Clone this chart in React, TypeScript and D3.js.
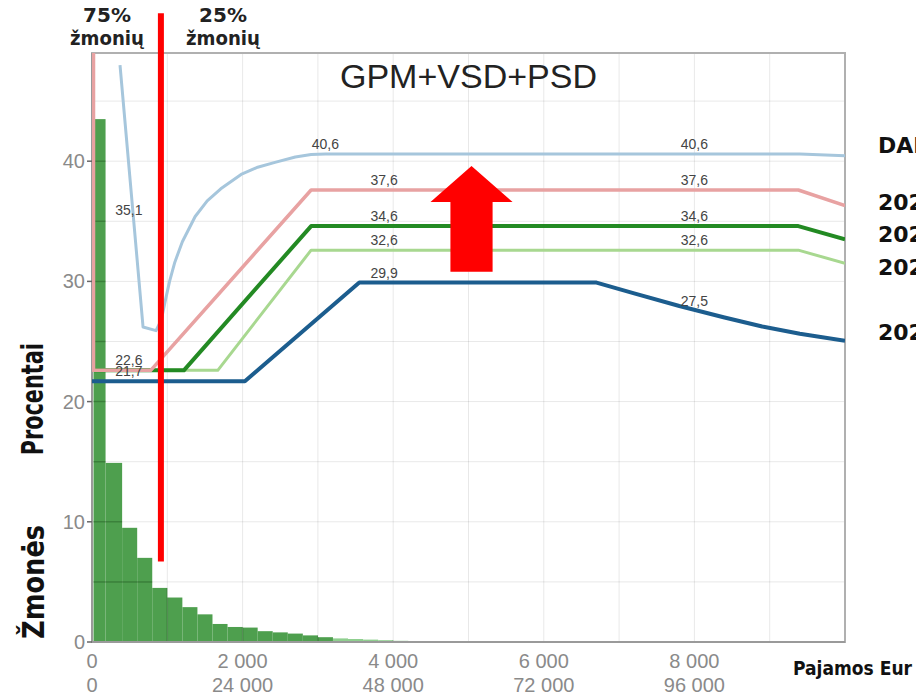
import React from "react";
import * as d3 from "d3";

const W = 916;
const H = 697;
const margin = { top: 53, right: 71, bottom: 55, left: 92 };

// share of people (%) per monthly income bin (Eur)
const binEdges = [20, 180, 400, 600, 800, 1000, 1200, 1400, 1600, 1800, 2000, 2200, 2400, 2600, 2800, 3000, 3200, 3400, 3600, 3800, 4000, 4200, 4400];
const people = [43.5, 14.9, 9.5, 7.0, 4.5, 3.7, 2.9, 2.3, 1.5, 1.25, 1.2, 0.9, 0.8, 0.7, 0.55, 0.4, 0.3, 0.25, 0.2, 0.15, 0.1, 0.05];

// effective rate (%) by monthly income (Eur)
const dabar: [number, number][] = [
  [372, 48.0], [678, 26.2], [850, 25.9], [920, 26.8], [970, 28.3], [1030, 30.0], [1100, 31.6],
  [1200, 33.3], [1370, 35.4], [1530, 36.7], [1710, 37.7], [1980, 38.9], [2200, 39.5], [2430, 39.9],
  [2700, 40.35], [2910, 40.55], [3100, 40.6], [9400, 40.6], [10000, 40.45],
];
const rateA: [number, number][] = [[20, 50], [20, 22.6], [780, 22.6], [2910, 37.6], [9380, 37.6], [10000, 36.3]];
const rateB: [number, number][] = [[25, 22.6], [1220, 22.6], [2910, 34.6], [9380, 34.6], [10000, 33.5]];
const rateC: [number, number][] = [[25, 22.6], [1670, 22.6], [2910, 32.6], [9380, 32.6], [10000, 31.5]];
const rateD: [number, number][] = [
  [0, 21.7], [2030, 21.7], [3550, 29.9], [6700, 29.9], [7200, 29.0], [7800, 27.95], [8400, 27.0],
  [8900, 26.25], [9400, 25.65], [10000, 25.05],
];

const series = [
  { name: "DABAR", data: dabar, color: "#a6c6dc", width: 3 },
  { name: "2025", data: rateC, color: "#a8d890", width: 3 },
  { name: "2026", data: rateB, color: "#238a23", width: 4 },
  { name: "2027", data: rateA, color: "#e8a2a2", width: 3.5 },
  { name: "2024", data: rateD, color: "#1c5d8e", width: 4 },
];

const valueLabels = [
  { x: 490, v: 35.1, text: "35,1" },
  { x: 490, v: 22.6, text: "22,6" },
  { x: 490, v: 21.7, text: "21,7" },
  { x: 3100, v: 40.6, text: "40,6" },
  { x: 8000, v: 40.6, text: "40,6" },
  { x: 3880, v: 37.6, text: "37,6" },
  { x: 8000, v: 37.6, text: "37,6" },
  { x: 3880, v: 34.6, text: "34,6" },
  { x: 8000, v: 34.6, text: "34,6" },
  { x: 3880, v: 32.6, text: "32,6" },
  { x: 8000, v: 32.6, text: "32,6" },
  { x: 3880, v: 29.9, text: "29,9" },
  { x: 8000, v: 27.5, text: "27,5" },
];

const xTicks = [0, 2000, 4000, 6000, 8000];
const xMonthLabels = ["0", "2 000", "4 000", "6 000", "8 000"];
const xYearLabels = ["0", "24 000", "48 000", "72 000", "96 000"];
const yTicks = [0, 10, 20, 30, 40];

const legend = [
  { text: "DABAR", y: 153 },
  { text: "2027", y: 210 },
  { text: "2026", y: 242 },
  { text: "2025", y: 275 },
  { text: "2024", y: 340 },
];

// annotations (Eur / %)
const splitIncome = 915;
const splitTop = 52.3;
const splitBottom = 6.7;
const arrow = { x: 5040, tip: 39.6, head: 36.6, base: 30.8, headHalf: 545, shaftHalf: 280 };

const boldFont = "'DejaVu Sans', sans-serif";
const plainFont = "'Liberation Sans', Arial, sans-serif";

export default function App() {
  const x = d3.scaleLinear().domain([0, 10000]).range([margin.left, W - margin.right]);
  const y = d3.scaleLinear().domain([0, 49]).range([H - margin.bottom, margin.top]);
  const line = d3.line<[number, number]>().x((d) => x(d[0])).y((d) => y(d[1]));

  const gridX = d3.range(0, 10001, 1000);
  const gridY = d3.range(0, 46, 5);

  const bars = people.map((v, i) => ({ x0: binEdges[i], x1: binEdges[i + 1], v }));

  const arrowPts: [number, number][] = [
    [arrow.x, arrow.tip],
    [arrow.x + arrow.headHalf, arrow.head],
    [arrow.x + arrow.shaftHalf, arrow.head],
    [arrow.x + arrow.shaftHalf, arrow.base],
    [arrow.x - arrow.shaftHalf, arrow.base],
    [arrow.x - arrow.shaftHalf, arrow.head],
    [arrow.x - arrow.headHalf, arrow.head],
  ];

  const grid = (key: string) => (
    <>
      {gridX.map((g) => (
        <line key={key + "x" + g} x1={x(g)} x2={x(g)} y1={y(49)} y2={y(0)} />
      ))}
      {gridY.map((g) => (
        <line key={key + "y" + g} x1={x(0)} x2={x(10000)} y1={y(g)} y2={y(g)} />
      ))}
    </>
  );

  return (
    <div style={{ position: "absolute", left: 0, top: 0 }}>
      <svg width={W} height={H} style={{ display: "block", background: "#fff" }}>
        <defs>
          <clipPath id="plot">
            <rect x={x(0)} y={y(49)} width={x(10000) - x(0)} height={y(0) - y(49)} />
          </clipPath>
          <clipPath id="bars">
            {bars.map((b) => (
              <rect key={b.x0} x={x(b.x0)} y={y(b.v)} width={x(b.x1) - x(b.x0)} height={y(0) - y(b.v)} />
            ))}
          </clipPath>
        </defs>

        {/* histogram */}
        <g clipPath="url(#plot)">
          {bars.map((b) => (
            <rect
              key={b.x0}
              x={x(b.x0)}
              y={y(b.v)}
              width={x(b.x1) - x(b.x0)}
              height={y(0) - y(b.v)}
              fill={b.v < 0.35 ? "#8fcf8f" : "#4e9f4e"}
            />
          ))}
        </g>

        {/* grid */}
        <g stroke="#000" strokeOpacity={0.09} strokeWidth={1}>
          {grid("a")}
        </g>
        <g stroke="#0b3b0b" strokeOpacity={0.22} strokeWidth={1.5} clipPath="url(#bars)">
          {grid("b")}
        </g>

        {/* frame */}
        <rect x={x(0)} y={y(49)} width={x(10000) - x(0)} height={y(0) - y(49)} fill="none" stroke="#b0b0b0" strokeWidth={2} />
        <line x1={x(0)} x2={x(0)} y1={y(49)} y2={y(0)} stroke="#9a9a9a" strokeWidth={2} />
        <line x1={x(0)} x2={x(10000)} y1={y(0)} y2={y(0)} stroke="#9a9a9a" strokeWidth={2} />

        {/* rate lines */}
        <g clipPath="url(#plot)" fill="none" strokeLinejoin="round">
          {series.map((s) => (
            <path key={s.name} d={line(s.data) || ""} stroke={s.color} strokeWidth={s.width} />
          ))}
        </g>

        {/* value labels */}
        <g fontFamily={plainFont} fontSize={14} fill="#444" textAnchor="middle">
          {valueLabels.map((l, i) => (
            <text key={i} x={x(l.x)} y={y(l.v) - 5}>
              {l.text}
            </text>
          ))}
        </g>

        {/* title */}
        <text x={x(5000)} y={88} textAnchor="middle" fontFamily={plainFont} fontSize={34} fill="#222">
          GPM+VSD+PSD
        </text>

        {/* y axis */}
        <g fontFamily={plainFont} fontSize={20} fill="#8a8a8a">
          {yTicks.map((t) => (
            <g key={t}>
              <line x1={x(0) - 5} x2={x(0)} y1={y(t)} y2={y(t)} stroke="#666" strokeWidth={1.5} />
              <text x={x(0) - 7} y={y(t) + 7} textAnchor="end">
                {t}
              </text>
            </g>
          ))}
        </g>

        {/* x axis, monthly and yearly */}
        <g fontFamily={plainFont} fontSize={20} fill="#8a8a8a" textAnchor="middle">
          {xTicks.map((t, i) => (
            <g key={t}>
              <text x={x(t)} y={668}>
                {xMonthLabels[i]}
              </text>
              <text x={x(t)} y={692}>
                {xYearLabels[i]}
              </text>
            </g>
          ))}
        </g>

        {/* axis titles */}
        <text
          transform={`translate(43,${y(20.2)}) rotate(-90)`}
          textAnchor="middle"
          fontFamily={boldFont}
          fontWeight="bold"
          fontSize={30}
          textLength={112}
          lengthAdjust="spacingAndGlyphs"
          fill="#111"
        >
          Procentai
        </text>
        <text
          transform={`translate(44,${y(5)}) rotate(-90)`}
          textAnchor="middle"
          fontFamily={boldFont}
          fontWeight="bold"
          fontSize={30}
          textLength={114}
          lengthAdjust="spacingAndGlyphs"
          fill="#111"
        >
          Žmonės
        </text>
        <text x={793} y={675} fontFamily={boldFont} fontWeight="bold" fontSize={19} textLength={119} lengthAdjust="spacingAndGlyphs" fill="#111">
          Pajamos Eur
        </text>

        {/* legend, cut at the right edge */}
        <g fontFamily={boldFont} fontWeight="bold" fontSize={22} fill="#111">
          {legend.map((l) => (
            <text key={l.text} x={878} y={l.y}>
              {l.text}
            </text>
          ))}
        </g>

        {/* 75% / 25% split */}
        <g fontFamily={boldFont} fontWeight="bold" fontSize={20} fill="#222" textAnchor="middle">
          <text x={107} y={22}>75%</text>
          <text x={107} y={45} textLength={74} lengthAdjust="spacingAndGlyphs">žmonių</text>
          <text x={223} y={22}>25%</text>
          <text x={223} y={45} textLength={74} lengthAdjust="spacingAndGlyphs">žmonių</text>
        </g>
        <line x1={x(splitIncome)} x2={x(splitIncome)} y1={y(splitTop)} y2={y(splitBottom)} stroke="#ff0000" strokeWidth={6} />

        <polygon points={arrowPts.map((p) => `${x(p[0])},${y(p[1])}`).join(" ")} fill="#ff0000" />
      </svg>
    </div>
  );
}
